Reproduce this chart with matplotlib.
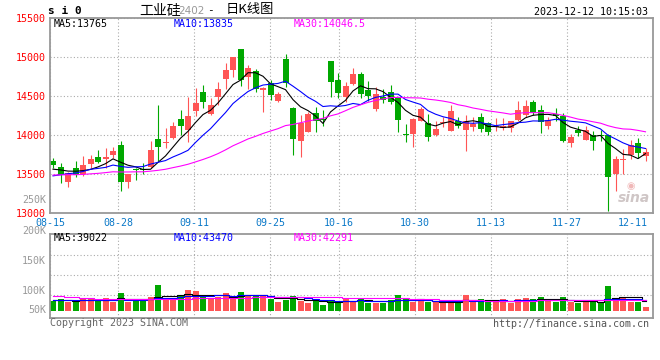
import matplotlib.pyplot as plt
import numpy as np
import pandas as pd

# daily K data for si0 (工业硅2402), 2023-08-15 .. 2023-12-12
opens = [13670, 13598, 13405, 13576, 13499, 13632, 13722, 13696, 13747, 13875,
         13405, 13568, 13563, 13598, 13953, 13897, 13969, 14209, 14068, 14311,
         14555, 14277, 14495, 14722, 14837, 15106, 14752, 14824, 14581, 14666,
         14440, 14978, 14350, 13927, 14038, 14290, 14213, 14953, 14709, 14495,
         14658, 14786, 14581, 14337, 14495, 14551, 14474, 14012, 14012, 14183,
         14162, 14004, 14162, 14055, 14183, 14068, 14106, 14234, 14153, 14106,
         14089, 14089, 14196, 14260, 14422, 14324, 14123, 14277, 14252, 13905,
         14068, 13940, 14004, 14004, 14004, 13499, 13683, 13747, 13905, 13734]
closes = [13619, 13491, 13516, 13491, 13619, 13696, 13653, 13722, 13799, 13405,
          13503, 13551, 13551, 13811, 13846, 13918, 14119, 14119, 14252, 14410,
          14431, 14388, 14594, 14837, 15004, 14709, 14867, 14594, 14611, 14517,
          14529, 14675, 13953, 14153, 14273, 14183, 14200, 14688, 14538, 14632,
          14786, 14529, 14504, 14529, 14453, 14423, 14196, 13999, 14209, 14333,
          13982, 14081, 14175, 14311, 14123, 14183, 14141, 14081, 14038, 14119,
          14119, 14183, 14324, 14376, 14281, 14166, 14196, 14252, 13927, 13982,
          14025, 14068, 13927, 13991, 13470, 13696, 13696, 13875, 13769, 13790]
highs = [13705, 13640, 13533, 13670, 13739, 13747, 13811, 13833, 13850, 13927,
         13503, 13585, 13640, 13927, 14388, 14089, 14175, 14324, 14495, 14611,
         14645, 14482, 14679, 14931, 15010, 15106, 14901, 14850, 14625, 14709,
         14559, 15038, 14358, 14260, 14303, 14358, 14324, 14953, 14794, 14688,
         14867, 14816, 14696, 14623, 14594, 14645, 14495, 14141, 14217, 14367,
         14269, 14183, 14239, 14388, 14239, 14260, 14234, 14290, 14175, 14226,
         14226, 14183, 14440, 14453, 14453, 14388, 14239, 14345, 14282, 14017,
         14119, 14119, 14055, 14068, 14012, 13739, 13824, 13940, 13961, 13833]
lows = [13576, 13384, 13341, 13470, 13482, 13576, 13640, 13576, 13705, 13290,
        13320, 13427, 13499, 13576, 13675, 13833, 13953, 14004, 13918, 14252,
        14354, 14260, 14388, 14594, 14752, 14636, 14594, 14551, 14303, 14453,
        14423, 14624, 13747, 13726, 14038, 14047, 14119, 14495, 14482, 14423,
        14645, 14482, 14440, 14311, 14410, 14397, 14047, 13918, 13854, 14183,
        13927, 13995, 14111, 14055, 14098, 13799, 14055, 14047, 14004, 14055,
        14068, 14038, 14183, 14239, 14260, 14034, 14081, 14183, 13910, 13854,
        13995, 13940, 13811, 13927, 13029, 13286, 13499, 13696, 13713, 13675]
# volume in thousands of lots
vols = [40, 47, 36, 36, 47, 47, 43, 49, 36, 71,
        36, 43, 39, 55, 103, 47, 43, 59, 83, 79,
        53, 47, 56, 71, 53, 75, 57, 59, 61, 48,
        36, 43, 59, 39, 33, 43, 23, 39, 39, 47,
        39, 51, 33, 33, 33, 43, 63, 45, 36, 38,
        35, 37, 36, 34, 38, 63, 36, 47, 36, 37,
        47, 32, 47, 51, 47, 55, 41, 36, 55, 36,
        32, 43, 36, 33, 99, 51, 55, 36, 36, 16]

# rough closes / volumes of the 29 sessions before the window (guessed from where the MAs start)
pre_close = [13420, 13450, 13480, 13510, 13490, 13460, 13440, 13470, 13490, 13490,
             13500, 13540, 13560, 13530, 13510, 13490, 13520, 13550, 13510, 13496,
             13350, 13380, 13400, 13420, 13420, 13540, 13590, 13500, 13580]
pre_vol = [92, 98, 95, 90, 100, 96, 94,
           55, 50, 53, 48, 56, 52, 50, 54, 49, 53, 51, 55, 50,
           45, 41, 44, 40, 46, 42, 43, 44, 42]

# legend values as printed by sina
ma_txt = ['MA5:13765', 'MA10:13835', 'MA30:14046.5']
vma_txt = ['MA5:39022', 'MA10:43470', 'MA30:42291']

tick_idx = [0, 9, 19, 29, 38, 48, 58, 68, 78]
tick_lbl = ['08-15', '08-28', '09-11', '09-25', '10-16', '10-30', '11-13', '11-27', '12-11']
price_ticks = [13000, 13500, 14000, 14500, 15000, 15500]
vol_lbl = ['250K', '200K', '150K', '100K', '50K']
vol_lbl_y = [200, 231, 261, 291, 310]   # pixel rows where sina prints them

RED = '#ff5555'
GREEN = '#00a800'
GRID = '#aaaaaa'
FRAME = '#999999'
CJK = ['Noto Sans CJK SC', 'DejaVu Sans']
plt.rcParams['font.family'] = ['DejaVu Sans Mono', 'Noto Sans CJK SC']

W, H = 660, 360
o = np.array(opens); c = np.array(closes)
h = np.array(highs); l = np.array(lows)
v = np.array(vols)
x = np.arange(len(o))
col = np.where(c >= o, RED, GREEN)

pc = pd.Series(pre_close + closes)
pv = pd.Series(pre_vol + vols)
n0 = len(pre_close)
periods = (5, 10, 30)
ma = {k: pc.rolling(k).mean().iloc[n0:].values for k in periods}
vma = {k: pv.rolling(k).mean().iloc[n0:].values for k in periods}
ma_col = {5: 'black', 10: '#0000ff', 30: '#ff00ff'}

# sina's grid runs a touch wider than the candle spacing
grid_x = np.array(tick_idx) * (7.6 / 7.5) - 0.4

fig = plt.figure(figsize=(W / 100, H / 100), dpi=100)
ax = fig.add_axes([50 / W, 1 - 213.3 / H, 603 / W, 195 / H])
axv = fig.add_axes([50 / W, 1 - 318.3 / H, 603 / W, 84 / H])

for a in (ax, axv):
    a.set_xlim(-0.4, 80.0)
    a.set_axisbelow(True)
    for s in a.spines.values():
        s.set_color(FRAME)
        s.set_linewidth(1.3)
    a.set_xticks(grid_x[:-1])
    a.set_xticklabels([])
    a.tick_params(length=0)
    a.grid(True, ls=(0, (1, 2)), color=GRID, lw=0.8)

# candles
body = np.maximum(np.abs(c - o), 14)
ax.vlines(x, l, h, colors=col, lw=0.8)
ax.bar(x, body, bottom=(o + c) / 2 - body / 2, width=0.8, color=col, lw=0)
for k in periods:
    ax.plot(x, ma[k], color=ma_col[k], lw=0.8)
ax.set_ylim(13000, 15500)
ax.set_yticks(price_ticks)
ax.set_yticklabels([str(t) for t in price_ticks], color='red', fontsize=7.2)
ax.tick_params(axis='y', pad=3)

for gx, lb in zip(grid_x[:-1], tick_lbl[:-1]):
    ax.text(gx, -0.05, lb, transform=ax.get_xaxis_transform(), ha='center', va='center',
            color='#0a78c8', fontsize=7.2)
ax.text((648 - 50) / 603, -0.05, tick_lbl[-1], transform=ax.transAxes, ha='right',
        va='center', color='#0a78c8', fontsize=7.2)

# volume
axv.bar(x, v, width=0.8, color=col, lw=0)
for k in periods:
    axv.plot(x, vma[k], color=ma_col[k], lw=0.8, drawstyle='steps-mid')
axv.set_ylim(-30, 305)
axv.set_yticks([63, 143, 223])
axv.set_yticklabels([])
for lb, yp in zip(vol_lbl, vol_lbl_y):
    fig.text(46 / W, 1 - yp / H, lb, ha='right', va='center', color='#999999', fontsize=7.2)


def px(xp, yp, s, **kw):
    fig.text(xp / W, 1 - yp / H, s, va='center', **kw)


px(48, 11.5, 's i 0', fontsize=8, fontweight='bold')
px(139, 10, '工业硅', fontsize=10, fontweight='medium', family=CJK)
px(178, 11, '2402', fontsize=7.5, color='#999999', family='DejaVu Sans')
px(207, 10.5, '-', fontsize=8)
px(226, 10, '日K线图', fontsize=9.5, fontweight='medium', family=CJK)
px(648, 11.7, '2023-12-12 10:15:03', fontsize=7.2, ha='right')

for xp, t, k in zip((54, 174, 294), ma_txt, periods):
    px(xp, 24, t, fontsize=7.2, color=ma_col[k])
for xp, t, k in zip((54, 174, 294), vma_txt, periods):
    px(xp, 238, t, fontsize=7.2, color=ma_col[k])

px(50, 323, 'Copyright 2023 SINA.COM', fontsize=7.2, color='#666666')
px(649, 324, 'http://finance.sina.com.cn', fontsize=7.2, color='#555555', ha='right')
px(634, 198, 'sina', fontsize=10, color='#cfc6c6', ha='center', style='italic',
   fontweight='bold', family='DejaVu Sans')
px(631, 186, '◉', fontsize=7, color='#f0b8b8', ha='center', family='DejaVu Sans')

fig.savefig('out.png', dpi=100)
